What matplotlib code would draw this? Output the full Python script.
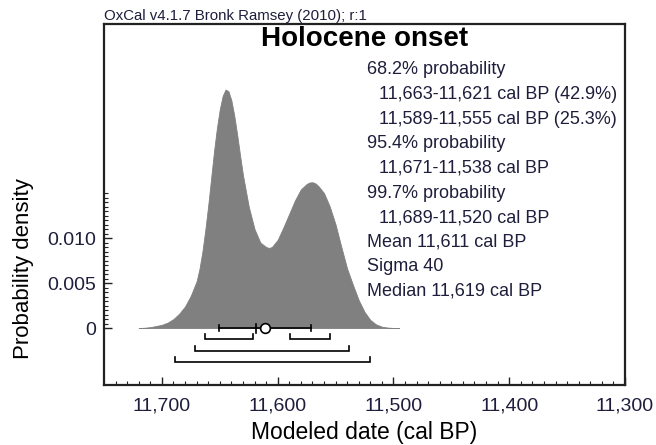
import matplotlib
matplotlib.use("Agg")
import matplotlib.pyplot as plt
import numpy as np

plt.rcParams['font.family'] = ['Liberation Sans', 'DejaVu Sans']

# ---- data ----
years = [11720, 11715, 11710, 11705, 11700, 11695, 11690, 11685, 11680, 11675,
         11670, 11667.5, 11665, 11662.5, 11660, 11657.5, 11655, 11652.5, 11650, 11647.5,
         11645, 11642.5, 11640, 11637.5, 11635, 11632.5, 11630, 11625,
         11620, 11615, 11610, 11607.5, 11605, 11600, 11595, 11590, 11585, 11580, 11575,
         11572.5, 11570, 11567.5, 11565, 11560, 11555, 11550, 11545, 11540, 11535, 11530, 11525,
         11520, 11515, 11510, 11505, 11500, 11495]
density = [0.0, 0.00003, 0.0001, 0.00022, 0.00036, 0.0006, 0.0010, 0.0016, 0.0024, 0.0036,
           0.0052, 0.0066, 0.0085, 0.0109, 0.0136, 0.0166, 0.0196, 0.0222, 0.0243, 0.0258,
           0.0265, 0.0263, 0.0253, 0.0236, 0.0215, 0.0192, 0.0170, 0.0135,
           0.0110, 0.0095, 0.0090, 0.0089, 0.0090, 0.0098, 0.0112, 0.0127, 0.0142, 0.0154, 0.0160,
           0.01617, 0.0162, 0.01608, 0.0158, 0.0150, 0.0135, 0.0115, 0.0090, 0.0066, 0.0048, 0.0031, 0.0018,
           0.0009, 0.0004, 0.00015, 0.00005, 0.00001, 0.0]

range_68 = [(11663, 11621), (11589, 11555)]
range_95 = [(11671, 11538)]
range_997 = [(11689, 11520)]
mean_bp = 11611
sigma_bp = 40
median_bp = 11619

xticks = [11700, 11600, 11500, 11400, 11300]
xtick_labels = ["11,700", "11,600", "11,500", "11,400", "11,300"]
yticks = [0, 0.005, 0.010]
ytick_labels = ["0", "0.005", "0.010"]

stats_lines = [
    ("68.2% probability", False),
    ("11,663-11,621 cal BP (42.9%)", True),
    ("11,589-11,555 cal BP (25.3%)", True),
    ("95.4% probability", False),
    ("11,671-11,538 cal BP", True),
    ("99.7% probability", False),
    ("11,689-11,520 cal BP", True),
    ("Mean 11,611 cal BP", False),
    ("Sigma 40", False),
    ("Median 11,619 cal BP", False),
]

title = "Holocene onset"
header = "OxCal v4.1.7 Bronk Ramsey (2010); r:1"

# ---- figure ----
W, H = 656, 445
fig = plt.figure(figsize=(W / 100, H / 100), dpi=100)
L, R, T, B = 104, 625, 24, 385
ax = fig.add_axes([L / W, 1 - B / H, (R - L) / W, (B - T) / H])

txt = '#1e1e3c'
ax.fill_between(years, density, 0, color='#808080', lw=0.6, edgecolor='#808080')

ax.set_xlim(11750, 11300)
ax.set_ylim(-0.00633, 0.03378)

# brackets
def bracket(x1, x2, y, h=0.00056):
    ax.plot([x1, x1, x2, x2], [y + h, y, y, y + h], color='black', lw=1.2,
            solid_joinstyle='miter')

for (a, b) in range_68:
    bracket(a, b, -0.00122)
for (a, b) in range_95:
    bracket(a, b, -0.00256)
for (a, b) in range_997:
    bracket(a, b, -0.00378)

# mean +- sigma
ax.plot([mean_bp + sigma_bp, mean_bp - sigma_bp], [0, 0], color='black', lw=1.2)
for xe in (mean_bp + sigma_bp, mean_bp - sigma_bp):
    ax.plot([xe, xe], [-0.00033, 0.00033], color='black', lw=1.2)
ax.plot([median_bp, median_bp], [-0.0005, 0.0005], color='black', lw=1.2)
ax.plot([mean_bp], [0], marker='o', ms=7, mfc='white', mec='black', mew=1.2, zorder=5)

# spines
for s in ax.spines.values():
    s.set_linewidth(1.6)
    s.set_color('#222222')

# ticks
ax.set_xticks(xticks)
ax.set_xticklabels(xtick_labels)
ax.set_xticks(np.arange(11750, 11301, -10), minor=True)
ax.set_yticks(yticks)
ax.set_yticklabels(ytick_labels)
ax.set_yticks(np.arange(0, 0.01501, 0.0005), minor=True)
ax.tick_params(axis='both', which='major', direction='in', length=6, width=1.0,
               labelsize=14, labelcolor=txt, color='#222222')
ax.tick_params(axis='both', which='minor', direction='in', length=3, width=0.8,
               color='#222222')
ax.tick_params(axis='x', which='major', pad=9)
ax.tick_params(axis='y', which='major', pad=6)
ax.tick_params(top=False, right=False, which='both')

ax.set_xlabel("Modeled date (cal BP)", fontsize=16.5, color='black')
ax.xaxis.set_label_coords(0.5, (B - 432) / (B - T))
ax.xaxis.label.set_va('center')
ax.set_ylabel("Probability density", fontsize=16, color='black')
ax.yaxis.set_label_coords((24 - L) / (R - L), (B - 269) / (B - T))
ax.yaxis.label.set_va('center')

# title and header
fig.text(((L + R) / 2) / W, 1 - 39 / H, title, fontsize=20, fontweight='bold',
         ha='center', va='center', color='black')
fig.text(L / W, 1 - 16 / H, header, fontsize=10.8, ha='left', va='center', color=txt)

# stats
for i, (s, indent) in enumerate(stats_lines):
    x = 379 if indent else 367
    y = 70 + 24.6 * i
    fig.text(x / W, 1 - y / H, s, fontsize=13, ha='left', va='center', color=txt)

fig.savefig("out.png", dpi=100)
